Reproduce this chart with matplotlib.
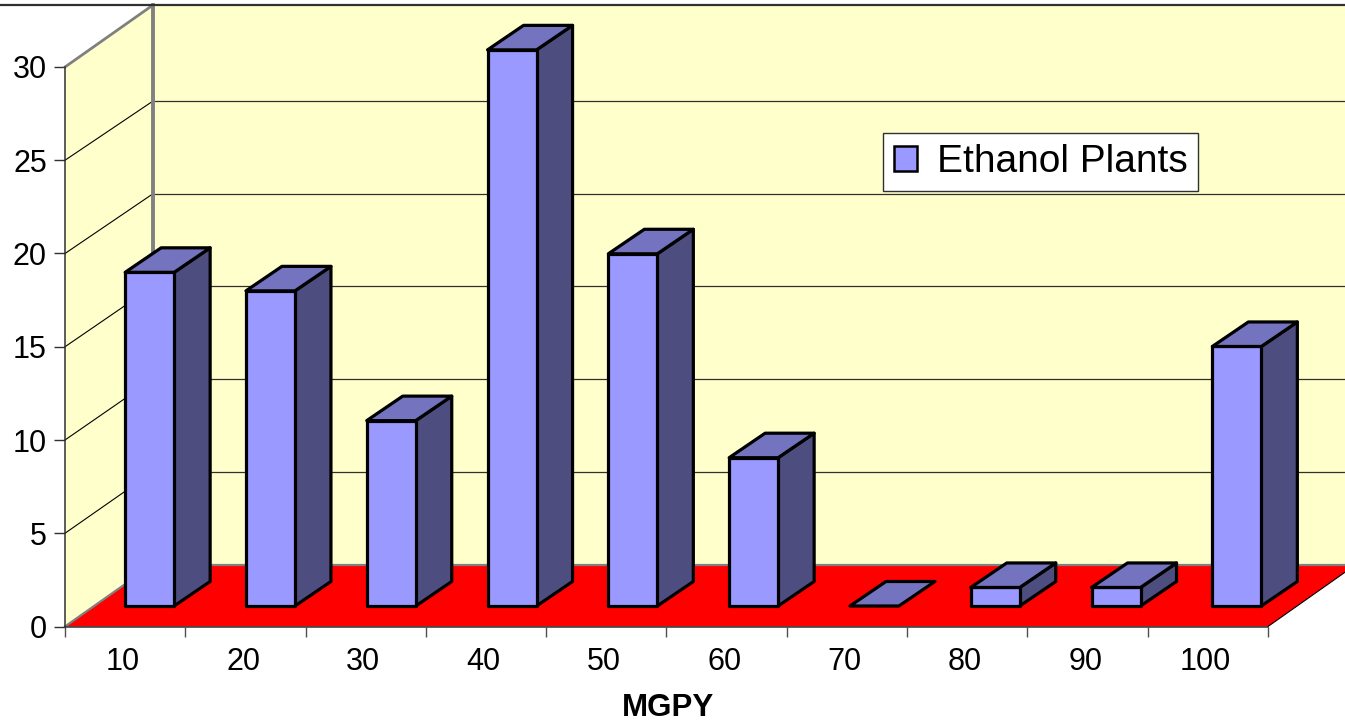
import matplotlib
matplotlib.use('Agg')
import matplotlib.pyplot as plt
from matplotlib.patches import Patch

plt.rcParams['font.family'] = ['Liberation Sans', 'DejaVu Sans']

categories = ['10', '20', '30', '40', '50', '60', '70', '80', '90', '100']
plants = [18, 17, 10, 30, 19, 8, 0, 1, 1, 14]
y_ticks = [0, 5, 10, 15, 20, 25, 30]

WALL = '#FFFFCC'
FLOOR = '#FF0000'
FRONT = '#9999FF'
TOP = '#7373BF'
SIDE = '#4D4D80'
GRAY = '#808080'

# pixel layout of the plot, turned into data limits below
W, H = 1345, 724
x0_px, x1_px = 65, 1268
y0_px, y30_px = 626.5, 67
sx = (x1_px - x0_px) / 10
sy = (y0_px - y30_px) / 30

wall_dx = 88 / sx
wall_dy = 62 / sy
bar_w = 49 / sx
bar_off = 0.5
bar_pitch = 120.8 / sx
base_dy = 20.5 / sy
side_dx = 36 / sx
side_dy = 24.5 / sy
depth_scale = 0.994   # things further back are drawn a bit smaller

fig = plt.figure(figsize=(W / 100, H / 100), dpi=100)
ax = fig.add_axes([0, 0, 1, 1])
ax.set_xlim(-x0_px / sx, (W - x0_px) / sx)
ax.set_ylim((y0_px - H) / sy, y0_px / sy)
ax.set_facecolor('white')

# walls and floor
ax.fill([0, wall_dx, wall_dx, 0], [0, wall_dy, 30 + wall_dy, 30], color=WALL, lw=0, zorder=1)
ax.fill([wall_dx, 10 + wall_dx + 2, 10 + wall_dx + 2, wall_dx],
        [wall_dy, wall_dy, 30 + wall_dy, 30 + wall_dy], color=WALL, lw=0, zorder=1)
ax.fill([0, 10, 10 + wall_dx, wall_dx], [0, 0, wall_dy, wall_dy], color=FLOOR, lw=0, zorder=2)

# grid
for v in y_ticks[1:-1]:
    back = wall_dy + v * depth_scale
    ax.plot([0, wall_dx], [v, back], color='black', lw=0.8, zorder=2)
    ax.plot([wall_dx, 10 + wall_dx + 2], [back, back], color='#303030', lw=0.9, zorder=2)
ax.plot([0, wall_dx], [30, 30 + wall_dy], color=GRAY, lw=2, zorder=3)
ax.plot([0, wall_dx], [0, wall_dy], color=GRAY, lw=1.6, zorder=2)
ax.plot([wall_dx, wall_dx], [wall_dy, 30 + wall_dy], color=GRAY, lw=2.8, zorder=3)
ax.plot([wall_dx, 10 + wall_dx], [wall_dy, wall_dy], color=GRAY, lw=1.6, zorder=3)
ax.plot([-x0_px / sx, 10 + wall_dx + 2], [30 + wall_dy, 30 + wall_dy], color='#303030', lw=1.6, zorder=3)
ax.plot([10, 10 + wall_dx], [0, wall_dy], color='black', lw=0.8, zorder=3)

# bars
edge = dict(edgecolor='black', lw=2.3, joinstyle='round', zorder=5)
for i, val in enumerate(plants):
    l = bar_off + i * bar_pitch
    r = l + bar_w
    b = base_dy
    t = base_dy + val * depth_scale
    if val > 0:
        ax.fill([r, r + side_dx, r + side_dx, r],
                [b, b + side_dy, t + side_dy, t], facecolor=SIDE, **edge)
        ax.fill([l, r, r, l], [b, b, t, t], facecolor=FRONT, **edge)
    ax.fill([l, r, r + side_dx, l + side_dx],
            [t, t, t + side_dy, t + side_dy], facecolor=TOP, **edge)

# axes lines and ticks
for side in ['top', 'right']:
    ax.spines[side].set_visible(False)
for side in ['left', 'bottom']:
    ax.spines[side].set_color('#303030')
    ax.spines[side].set_linewidth(1.1)
    ax.spines[side].set_zorder(4)
ax.spines['left'].set_position(('data', 0))
ax.spines['bottom'].set_position(('data', 0))
ax.spines['left'].set_bounds(0, 30)
ax.spines['bottom'].set_bounds(0, 10)

ax.set_yticks(y_ticks)
ax.tick_params(axis='y', direction='out', length=8, width=1, color='#303030',
               labelsize=22, pad=5)
ax.set_xticks(range(11))
ax.set_xticklabels([])
ax.set_xticks([i + 0.48 for i in range(10)], minor=True)
ax.set_xticklabels(categories, minor=True)
ax.tick_params(axis='x', which='major', direction='out', length=7.5, width=1, color='#505050')
ax.tick_params(axis='x', which='minor', length=0, labelsize=22, pad=15)

ax.text(5.01, (y0_px - 708) / sy, 'MGPY', ha='center', va='center',
        fontsize=22.5, fontweight='bold', color='black')

leg = ax.legend(handles=[Patch(facecolor=FRONT, edgecolor='black', lw=1.8, label='Ethanol Plants')],
                loc='upper left', bbox_to_anchor=(883 / W, 1 - 133 / H), bbox_transform=fig.transFigure,
                fontsize=28, fancybox=False, framealpha=1, edgecolor='#303030',
                handlelength=0.6, handleheight=0.6, handletextpad=0.5,
                borderpad=0.28, borderaxespad=0)
leg.get_frame().set_linewidth(1)
leg.set_zorder(6)

fig.savefig('out.png', dpi=100)
